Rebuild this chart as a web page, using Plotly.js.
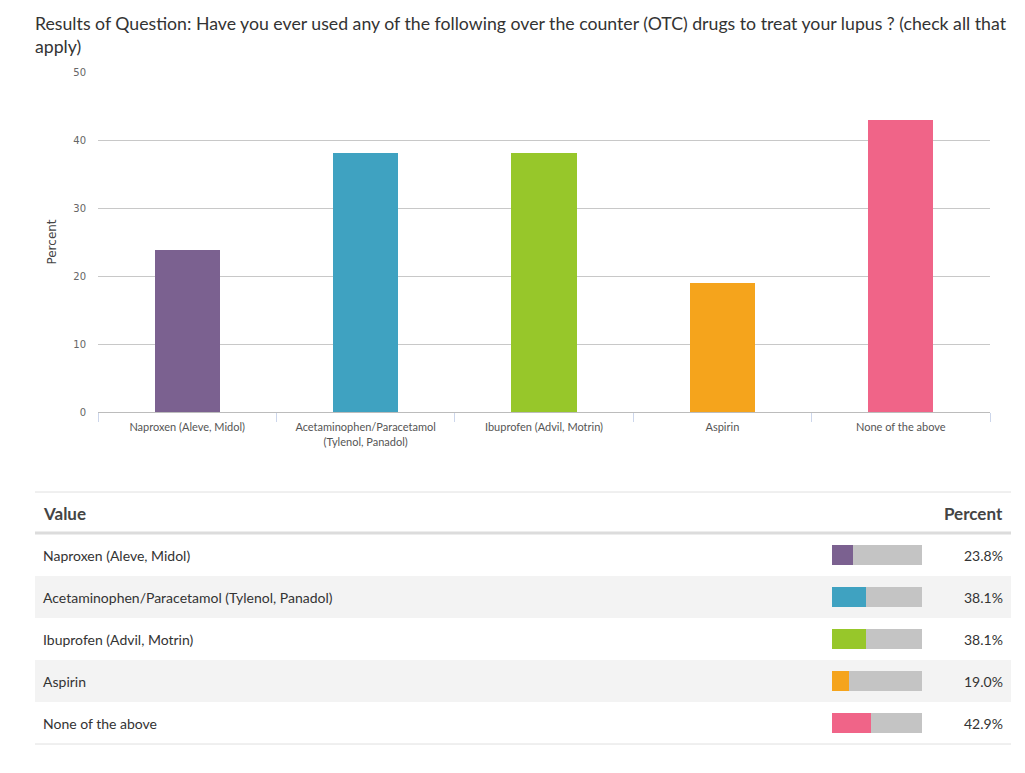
<!DOCTYPE html>
<html>
<head>
<meta charset="utf-8">
<script src="https://cdn.plot.ly/plotly-3.0.1.min.js"></script>
<style>
  html, body { margin: 0; padding: 0; background: #fff; }
  #chart { width: 1025px; height: 773px; }
</style>
</head>
<body>
<div id="chart"></div>
<script>
// answers and their share of respondents
var categories = [
  'Naproxen (Aleve, Midol)',
  'Acetaminophen/Paracetamol (Tylenol, Panadol)',
  'Ibuprofen (Advil, Motrin)',
  'Aspirin',
  'None of the above'
];
var tickLabels = [
  'Naproxen (Aleve, Midol)',
  'Acetaminophen/Paracetamol<br>(Tylenol, Panadol)',
  'Ibuprofen (Advil, Motrin)',
  'Aspirin',
  'None of the above'
];
var percents = [23.8, 38.1, 38.1, 19.0, 42.9];
var colors = ['#7b6190', '#3fa2c1', '#97c72a', '#f5a41c', '#f06488'];

var W = 1025, H = 773;
function px(x) { return x / W; }
function py(y) { return 1 - y / H; }

var font = 'Lato, "Open Sans", sans-serif';

var mainBars = {
  type: 'bar',
  x: categories,
  y: percents,
  width: 0.365,
  marker: {color: colors},
  xaxis: 'x',
  yaxis: 'y',
  hoverinfo: 'skip'
};

// small bars in the table, filled part then the gray rest up to 100
var miniFill = {
  type: 'bar',
  orientation: 'h',
  y: categories,
  x: percents,
  width: 0.476,
  marker: {color: colors},
  xaxis: 'x2',
  yaxis: 'y2',
  hoverinfo: 'skip'
};
var miniRest = {
  type: 'bar',
  orientation: 'h',
  y: categories,
  x: percents.map(function (p) { return 100 - p; }),
  base: percents,
  width: 0.476,
  marker: {color: '#c4c4c4'},
  xaxis: 'x2',
  yaxis: 'y2',
  hoverinfo: 'skip'
};

var shapes = [];
var annotations = [];

// table borders
shapes.push({type: 'line', xref: 'paper', yref: 'paper', x0: px(35), x1: px(1011), y0: py(492), y1: py(492), line: {color: '#e0e0e0', width: 1}});
shapes.push({type: 'line', xref: 'paper', yref: 'paper', x0: px(35), x1: px(1011), y0: py(533), y1: py(533), line: {color: '#dcdcdc', width: 3}});
shapes.push({type: 'line', xref: 'paper', yref: 'paper', x0: px(35), x1: px(1011), y0: py(744), y1: py(744), line: {color: '#e0e0e0', width: 1}});

annotations.push({xref: 'paper', yref: 'paper', x: px(41), y: py(513), xanchor: 'left', yanchor: 'middle', showarrow: false,
  text: '<b>Value</b>', font: {family: font, size: 17, color: '#444'}});
annotations.push({xref: 'paper', yref: 'paper', x: px(1005), y: py(513), xanchor: 'right', yanchor: 'middle', showarrow: false,
  text: '<b>Percent</b>', font: {family: font, size: 17, color: '#444'}});

categories.forEach(function (c, i) {
  if (i % 2 === 1) {
    shapes.push({type: 'rect', layer: 'below', xref: 'paper', yref: 'y2', x0: px(35), x1: px(1011), y0: i - 0.5, y1: i + 0.5,
      fillcolor: '#f3f3f3', line: {width: 0}});
  }
  annotations.push({xref: 'paper', yref: 'y2', x: px(41), y: c, xanchor: 'left', yanchor: 'middle', showarrow: false,
    text: c, font: {family: font, size: 14, color: '#333'}});
  annotations.push({xref: 'paper', yref: 'y2', x: px(1005), y: c, xanchor: 'right', yanchor: 'middle', showarrow: false,
    text: percents[i].toFixed(1) + '%', font: {family: font, size: 14, color: '#333'}});
});

var layout = {
  width: W,
  height: H,
  margin: {l: 0, r: 0, t: 0, b: 0},
  paper_bgcolor: '#fff',
  plot_bgcolor: 'rgba(0,0,0,0)',
  showlegend: false,
  barmode: 'stack',
  title: {
    text: 'Results of Question: Have you ever used any of the following over the counter (OTC) drugs to treat your lupus ? (check all that<br>apply)',
    xref: 'paper', x: px(35), xanchor: 'left',
    yref: 'container', y: 1 - 30 / H, yanchor: 'top',
    font: {family: font, size: 17.7, color: '#333'}
  },
  xaxis: {
    domain: [px(98), px(990)],
    type: 'category',
    tickvals: categories,
    ticktext: tickLabels,
    tickson: 'boundaries',
    ticks: 'outside',
    ticklen: 9,
    tickcolor: '#ccd6eb',
    showline: true,
    linecolor: '#bcbcbc',
    showgrid: false,
    tickangle: 0,
    ticklabelstandoff: 5,
    tickfont: {family: font, size: 11, color: '#555'},
    fixedrange: true
  },
  yaxis: {
    domain: [py(412), py(72)],
    range: [0, 50],
    dtick: 10,
    gridcolor: '#c8c8c8',
    zeroline: false,
    showline: false,
    ticks: '',
    ticklabelstandoff: 11,
    tickfont: {family: '"DejaVu Sans", Verdana, sans-serif', size: 10, color: '#666'},
    title: {text: 'Percent', standoff: 14, font: {family: '"DejaVu Sans", Verdana, sans-serif', size: 12, color: '#444'}},
    fixedrange: true
  },
  xaxis2: {
    domain: [px(832), px(922)],
    range: [0, 100],
    visible: false,
    fixedrange: true
  },
  yaxis2: {
    domain: [py(744), py(534)],
    type: 'category',
    range: [4.5, -0.5],
    visible: false,
    fixedrange: true
  },
  shapes: shapes,
  annotations: annotations
};

Plotly.newPlot('chart', [mainBars, miniFill, miniRest], layout, {displayModeBar: false, staticPlot: true});
</script>
</body>
</html>
